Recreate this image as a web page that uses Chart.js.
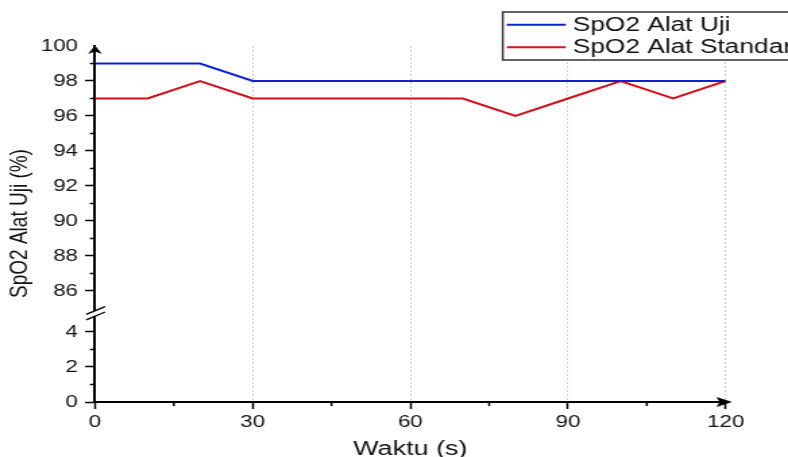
<!DOCTYPE html>
<html><head><meta charset="utf-8">
<script src="https://cdn.jsdelivr.net/npm/chart.js@4.4.1/dist/chart.umd.min.js"></script>
<style>
html,body{margin:0;padding:0;background:#fff;overflow:hidden;}
#wrap{width:788px;height:457px;overflow:hidden;}
</style></head><body>
<div id="wrap"><canvas id="c" width="584" height="457" style="display:block;width:788px;height:457px"></canvas></div>
<script>
// ---- data ----
const timeValues = [0,10,20,30,40,50,60,70,80,90,100,110,120];
const spo2AlatUji = [99,99,99,98,98,98,98,98,98,98,98,98,98];
const spo2AlatStandar = [97,97,98,97,97,97,97,97,96,97,98,97,98];
const seriesNames = ['SpO2 Alat Uji','SpO2 Alat Standar'];
const xTickValues = [0,30,60,90,120];
const xMinorTicks = [15,45,75,105];
const yUpperTicks = [86,88,90,92,94,96,98,100];
const yUpperMinor = [87,89,91,93,95,97,99];
const yLowerTicks = [0,2,4];
const yLowerMinor = [1,3];
const xTitleText = 'Waktu (s)';
const yTitleText = 'SpO2 Alat Uji (%)';

const FAM = "'Liberation Sans', Arial, sans-serif";
const toPts = (xs, ys) => xs.map((x, i) => ({x: x, y: ys[i]}));

const decor = {
  id: 'decor',
  afterDraw(chart) {
    const ctx = chart.ctx, ca = chart.chartArea;
    const xs = chart.scales.x, yu = chart.scales.y, yl = chart.scales.yLow;
    const ax = ca.left;
    const line = (x1, y1, x2, y2) => { ctx.beginPath(); ctx.moveTo(x1, y1); ctx.lineTo(x2, y2); ctx.stroke(); };
    ctx.save();
    ctx.strokeStyle = '#000';
    // minor ticks
    ctx.lineWidth = 1.5;
    yUpperMinor.forEach(v => { const p = yu.getPixelForValue(v); line(ax - 3.8, p, ax, p); });
    yLowerMinor.forEach(v => { const p = yl.getPixelForValue(v); line(ax - 3.8, p, ax, p); });
    xMinorTicks.forEach(v => { const p = xs.getPixelForValue(v); line(p, ca.bottom, p, ca.bottom + 4); });
    // axis break
    const b = yu.bottom;
    ctx.fillStyle = '#fff';
    ctx.fillRect(ax - 2.5, b - 2.4, 5, 4.8);
    ctx.lineWidth = 1.3;
    const s = 0.56;
    [-2.7, 2.7].forEach(o => {
      const yc = b + o;
      line(ax - 6.5, yc + s * 6.5, ax + 7.5, yc - s * 7.5);
    });
    // arrows
    ctx.fillStyle = '#000';
    const t = ca.top;
    ctx.beginPath();
    ctx.moveTo(ax, t - 0.5); ctx.lineTo(ax + 5.2, t + 8); ctx.lineTo(ax, t + 5.5); ctx.lineTo(ax - 5.2, t + 8); ctx.closePath(); ctx.fill();
    const r = xs.getPixelForValue(120), yb = ca.bottom;
    ctx.beginPath();
    ctx.moveTo(r + 4.8, yb); ctx.lineTo(r - 6.8, yb - 5); ctx.lineTo(r - 4.6, yb); ctx.lineTo(r - 6.8, yb + 5); ctx.closePath(); ctx.fill();
    // y title
    ctx.save();
    ctx.translate(15, 223.5);
    ctx.rotate(-Math.PI / 2);
    ctx.font = '19px ' + FAM;
    ctx.fillStyle = '#111';
    ctx.textAlign = 'center';
    ctx.textBaseline = 'middle';
    ctx.fillText(yTitleText, 0, 0);
    ctx.restore();
    // legend
    const lx = 372.6, ly = 12, lh = 48;
    ctx.fillStyle = '#fff';
    ctx.fillRect(lx, ly, 400, lh);
    ctx.strokeStyle = '#333';
    ctx.lineWidth = 1.5;
    ctx.strokeRect(lx, ly, 400, lh);
    const rows = [24.8, 47.2];
    chart.data.datasets.forEach((ds, i) => {
      ctx.strokeStyle = ds.borderColor;
      ctx.lineWidth = 2;
      line(375.6, rows[i], 419.3, rows[i]);
      ctx.fillStyle = '#111';
      ctx.font = '19.5px ' + FAM;
      ctx.textAlign = 'left';
      ctx.textBaseline = 'middle';
      ctx.fillText(ds.label, 424.4, rows[i] + 0.5);
    });
    ctx.restore();
  }
};

const tickFont = {family: FAM, size: 16.5};
const yCommon = (ticksArr) => ({
  type: 'linear',
  position: 'left',
  stack: 'v',
  afterBuildTicks: s => { s.ticks = ticksArr.map(v => ({value: v})); },
  afterFit: s => { s.width = 70.4; },
  grid: {
    drawOnChartArea: false,
    tickLength: 7.4,
    tickWidth: 1.5,
    tickColor: c => (c.tick && c.tick.value === 100) ? 'rgba(0,0,0,0)' : '#000'
  },
  border: {display: true, color: '#000', width: 2},
  ticks: {color: '#111', font: tickFont, padding: 5.2, autoSkip: false}
});

const yUpper = Object.assign(yCommon(yUpperTicks), {min: 84.714, max: 100, stackWeight: 267.5});
const yLower = Object.assign(yCommon(yLowerTicks), {min: 0, max: 5.057, stackWeight: 88.5});

new Chart(document.getElementById('c'), {
  type: 'line',
  data: {
    datasets: [
      {label: seriesNames[0], data: toPts(timeValues, spo2AlatUji), borderColor: '#0b22cf', borderWidth: 2, pointRadius: 0, tension: 0, yAxisID: 'y', xAxisID: 'x'},
      {label: seriesNames[1], data: toPts(timeValues, spo2AlatStandar), borderColor: '#d2101c', borderWidth: 2, pointRadius: 0, tension: 0, yAxisID: 'y', xAxisID: 'x'}
    ]
  },
  options: {
    responsive: false,
    animation: false,
    devicePixelRatio: 1,
    layout: {padding: {left: 0, top: 46, right: 46.2, bottom: 0}},
    plugins: {legend: {display: false}, tooltip: {enabled: false}, title: {display: false}},
    scales: {
      x: {
        type: 'linear', min: 0, max: 120,
        afterBuildTicks: s => { s.ticks = xTickValues.map(v => ({value: v})); },
        afterFit: s => { s.height = 55; },
        grid: {
          drawOnChartArea: true,
          color: c => (c.tick && c.tick.value === 0) ? 'rgba(0,0,0,0)' : '#c2c2c2',
          lineWidth: 0.8,
          tickLength: 7,
          tickWidth: 1.5,
          tickColor: '#000'
        },
        border: {display: true, color: '#000', width: 2, dash: [2, 2]},
        ticks: {color: '#111', font: tickFont, padding: 4, maxRotation: 0, autoSkip: false},
        title: {display: true, text: xTitleText, color: '#111', font: {family: FAM, size: 20, lineHeight: 0.8}, padding: {top: 0, bottom: 0}}
      },
      yLow: yLower,
      y: yUpper
    }
  },
  plugins: [decor]
});
</script>
</body></html>
